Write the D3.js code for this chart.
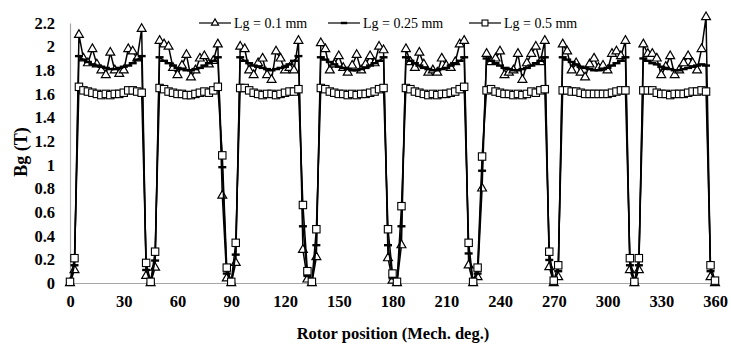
<!DOCTYPE html>
<html>
<head>
<meta charset="utf-8">
<script src="https://cdn.jsdelivr.net/npm/d3@7"></script>
<style>
  body { margin: 0; background: #fff; }
  svg { display: block; font-family: "Liberation Serif", "Times New Roman", serif; }
</style>
</head>
<body>
<svg id="chart" width="731" height="345"></svg>
<script>
// rotor position samples (mech. deg.)
const angle = [
  0, 2.5, 5, 7.5, 10, 12.5, 15, 17.5, 20, 22.5, 25, 27.5, 30, 32.5, 35, 37.5, 40, 42.5, 45, 47.5,
  50, 52.5, 55, 57.5, 60, 62.5, 65, 67.5, 70, 72.5, 75, 77.5, 80, 82.5, 85, 87.5, 90, 92.5,
  95, 97.5, 100, 102.5, 105, 107.5, 110, 112.5, 115, 117.5, 120, 122.5, 125, 127.5, 130, 132.5, 135, 137.5,
  140, 142.5, 145, 147.5, 150, 152.5, 155, 157.5, 160, 162.5, 165, 167.5, 170, 172.5, 175, 177.5, 180, 182.5,
  185, 187.5, 190, 192.5, 195, 197.5, 200, 202.5, 205, 207.5, 210, 212.5, 215, 217.5, 220, 222.5, 225, 227.5,
  230, 232.5, 235, 237.5, 240, 242.5, 245, 247.5, 250, 252.5, 255, 257.5, 260, 262.5, 265, 267.5, 270, 272.5,
  275, 277.5, 280, 282.5, 285, 287.5, 290, 292.5, 295, 297.5, 300, 302.5, 305, 307.5, 310, 312.5, 315, 317.5,
  320, 322.5, 325, 327.5, 330, 332.5, 335, 337.5, 340, 342.5, 345, 347.5, 350, 352.5, 355, 357.5, 360
];

// Bg (T) for Lg = 0.1 mm
const bg01 = [
  0, 0.11,
  2.1, 1.9, 1.86, 1.98, 1.85, 1.8, 1.76, 1.95, 1.8, 1.77, 1.8, 1.98, 1.96, 1.9, 2.15,
  0.06, 0, 0.13,
  2.05, 2.02, 2.0, 1.82, 1.76, 1.84, 1.93, 1.74, 1.8, 1.9, 1.92, 1.85, 1.88, 2.02,
  0.74, 0.04, 0, 0.17,
  2.0, 1.98, 1.8, 1.76, 1.86, 1.9, 1.76, 1.72, 1.96, 1.9, 1.8, 1.82, 1.8, 2.05,
  0.28, 0.03, 0, 0.22,
  2.03, 1.98, 1.8, 1.85, 1.92, 1.82, 1.78, 1.84, 1.93, 1.8, 1.85, 1.92, 1.86, 2.0, 1.97,
  0.21, 0.02, 0, 0.32,
  1.98, 1.87, 1.82, 1.95, 1.85, 1.78, 1.8, 1.78, 1.9, 1.84, 1.82, 1.87, 2.02, 2.05,
  0.15, 0, 0.05, 0.8,
  1.94, 1.87, 1.9, 1.96, 1.76, 1.78, 1.8, 1.94, 1.72, 1.86, 1.94, 2.0, 1.87, 2.05,
  0.135, 0, 0.05,
  2.02, 1.96, 1.8, 1.86, 1.78, 1.74, 1.85, 1.9, 1.82, 1.84, 1.8, 1.94, 1.96, 1.92, 2.05,
  0.11, 0, 0.11,
  2.02, 1.94, 1.94, 1.9, 1.76, 1.83, 1.92, 1.76, 1.8, 1.86, 1.92, 1.86, 1.8, 1.98, 2.25,
  0.05, 0
];

// Bg (T) for Lg = 0.25 mm
const bg025 = [
  0, 0.15,
  1.92, 1.89, 1.87, 1.85, 1.84, 1.83, 1.82, 1.81, 1.81, 1.82, 1.83, 1.84, 1.86, 1.89, 1.92,
  0.11, 0, 0.19,
  1.91, 1.88, 1.86, 1.84, 1.82, 1.81, 1.8, 1.8, 1.81, 1.82, 1.84, 1.86, 1.88, 1.91,
  0.98, 0.08, 0, 0.24,
  1.91, 1.88, 1.86, 1.84, 1.83, 1.82, 1.81, 1.8, 1.81, 1.82, 1.83, 1.85, 1.88, 1.92,
  0.48, 0.06, 0, 0.32,
  1.91, 1.89, 1.87, 1.85, 1.83, 1.82, 1.81, 1.8, 1.8, 1.81, 1.82, 1.84, 1.86, 1.88, 1.91,
  0.32, 0.04, 0, 0.48,
  1.91, 1.88, 1.86, 1.84, 1.82, 1.81, 1.8, 1.8, 1.81, 1.82, 1.84, 1.86, 1.88, 1.91,
  0.25, 0, 0.08, 0.95,
  1.9, 1.88, 1.86, 1.84, 1.82, 1.81, 1.8, 1.8, 1.81, 1.82, 1.84, 1.86, 1.88, 1.91,
  0.195, 0, 0.1,
  1.91, 1.89, 1.87, 1.85, 1.83, 1.82, 1.81, 1.8, 1.8, 1.81, 1.82, 1.84, 1.86, 1.88, 1.91,
  0.15, 0, 0.15,
  1.9, 1.88, 1.86, 1.85, 1.83, 1.82, 1.81, 1.8, 1.8, 1.81, 1.82, 1.83, 1.84, 1.85, 1.84,
  0.1, 0.01
];

// Bg (T) for Lg = 0.5 mm
const bg05 = [
  0.01, 0.21,
  1.66, 1.63, 1.62, 1.61, 1.6, 1.59, 1.6, 1.59, 1.6, 1.6, 1.61, 1.63, 1.63, 1.62, 1.61,
  0.17, 0.01, 0.265,
  1.65, 1.64, 1.62, 1.61, 1.6, 1.6, 1.59, 1.59, 1.6, 1.61, 1.62, 1.61, 1.63, 1.66,
  1.08, 0.13, 0.01, 0.34,
  1.65, 1.65, 1.63, 1.61, 1.6, 1.59, 1.6, 1.6, 1.59, 1.6, 1.61, 1.62, 1.62, 1.64,
  0.66, 0.1, 0.01, 0.455,
  1.65, 1.64, 1.62, 1.61, 1.6, 1.6, 1.59, 1.6, 1.59, 1.6, 1.6, 1.61, 1.62, 1.64, 1.65,
  0.455, 0.08, 0.01, 0.65,
  1.65, 1.64, 1.62, 1.61, 1.6, 1.59, 1.6, 1.59, 1.6, 1.6, 1.61, 1.62, 1.64, 1.66,
  0.34, 0.01, 0.13, 1.07,
  1.63, 1.64, 1.62, 1.61, 1.6, 1.6, 1.59, 1.6, 1.59, 1.6, 1.62, 1.61, 1.63, 1.64,
  0.265, 0.02, 0.15,
  1.63, 1.63, 1.62, 1.62, 1.61, 1.6, 1.6, 1.6, 1.6, 1.6, 1.6, 1.61, 1.62, 1.63, 1.63,
  0.21, 0.01, 0.21,
  1.63, 1.63, 1.63, 1.61, 1.6, 1.6, 1.59, 1.6, 1.6, 1.6, 1.61, 1.62, 1.62, 1.63, 1.62,
  0.15, 0.02
];

const seriesNames = ["Lg = 0.1 mm", "Lg = 0.25 mm", "Lg = 0.5 mm"];
const xTicks = [0, 30, 60, 90, 120, 150, 180, 210, 240, 270, 300, 330, 360];
const yTicks = [0, 0.2, 0.4, 0.6, 0.8, 1, 1.2, 1.4, 1.6, 1.8, 2, 2.2];

const svg = d3.select("#chart");

const x = d3.scaleLinear().domain([0, 360]).range([70, 715]);
const y = d3.scaleLinear().domain([0, 2.2]).range([283, 23]);

// axes
const xAxis = svg.append("g")
  .attr("transform", "translate(0," + y(0) + ")")
  .call(d3.axisBottom(x).tickValues(xTicks).tickSize(0).tickPadding(12).tickFormat(d3.format("d")));
const yAxis = svg.append("g")
  .attr("transform", "translate(" + x(0) + ",0)")
  .call(d3.axisLeft(y).tickValues(yTicks).tickSize(0).tickPadding(15).tickFormat(d3.format("~g")));

[xAxis, yAxis].forEach(a => {
  a.select(".domain").attr("stroke", "#a6a6a6").attr("stroke-width", 1.2);
  a.selectAll("text")
    .attr("font-family", "Liberation Serif, serif")
    .attr("font-weight", "bold")
    .attr("font-size", 16.5)
    .attr("fill", "#000");
});

svg.append("text")
  .attr("x", 393).attr("y", 339)
  .attr("text-anchor", "middle")
  .attr("font-weight", "bold")
  .attr("font-size", 16.5)
  .text("Rotor position (Mech. deg.)");

svg.append("text")
  .attr("transform", "translate(27,152) rotate(-90)")
  .attr("text-anchor", "middle")
  .attr("font-weight", "bold")
  .attr("font-size", 18)
  .text("Bg (T)");

// markers
const triPath = d3.symbol(d3.symbolTriangle, 34)();
function drawMarker(g, kind, cx, cy, scale) {
  const s = scale || 1;
  if (kind === "tri") {
    g.append("path").attr("d", triPath)
      .attr("transform", "translate(" + cx + "," + cy + ") scale(" + s + ")")
      .attr("fill", "#fff").attr("stroke", "#000").attr("stroke-width", 1.2 / s);
  } else if (kind === "dash") {
    g.append("line")
      .attr("x1", cx - 4 * s).attr("x2", cx + 4 * s)
      .attr("y1", cy).attr("y2", cy)
      .attr("stroke", "#000").attr("stroke-width", 2.4);
  } else {
    g.append("rect")
      .attr("x", cx - 3.7 * s).attr("y", cy - 3.7 * s)
      .attr("width", 7.4 * s).attr("height", 7.4 * s)
      .attr("fill", "#fff").attr("stroke", "#000").attr("stroke-width", 1.1);
  }
}

const series = [
  { name: seriesNames[0], values: bg01, kind: "tri" },
  { name: seriesNames[1], values: bg025, kind: "dash" },
  { name: seriesNames[2], values: bg05, kind: "sq" }
];

const line = d3.line()
  .x(d => x(d[0]))
  .y(d => y(d[1]));

series.forEach(s => {
  const pts = angle.map((a, i) => [a, s.values[i]]);
  const g = svg.append("g");
  g.append("path")
    .attr("d", line(pts))
    .attr("fill", "none")
    .attr("stroke", "#000")
    .attr("stroke-width", 1.5)
    .attr("stroke-linejoin", "round");
  pts.forEach(p => drawMarker(g, s.kind, x(p[0]), y(p[1])));
});

// legend
const legendX = [199, 328, 469];
const legend = svg.append("g");
series.forEach((s, i) => {
  const lx = legendX[i];
  legend.append("line")
    .attr("x1", lx).attr("x2", lx + 32)
    .attr("y1", 23).attr("y2", 23)
    .attr("stroke", "#000").attr("stroke-width", 1.2);
  drawMarker(legend, s.kind, lx + 16, 23, 0.8);
  legend.append("text")
    .attr("x", lx + 35).attr("y", 28)
    .attr("font-size", 14)
    .text(s.name);
});
</script>
</body>
</html>
